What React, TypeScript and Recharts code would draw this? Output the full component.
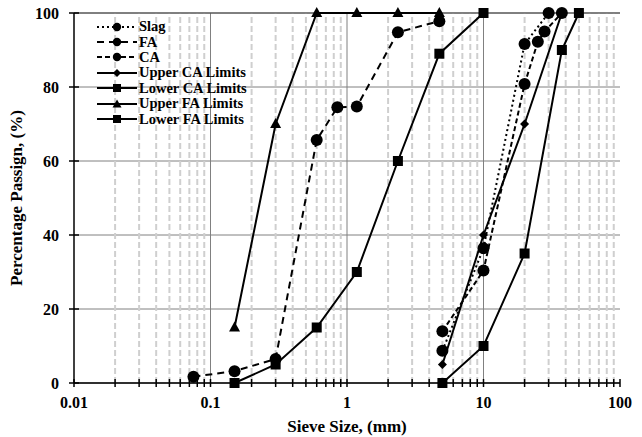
import React from "react";
import {
  LineChart,
  Line,
  XAxis,
  YAxis,
  CartesianGrid,
  ReferenceLine,
  Label,
} from "recharts";

// sieve sizes (mm) and percentage passing
const slagSize = [5, 10, 20, 30];
const slagPass = [8.7, 36.4, 91.6, 100];
const faSize = [0.075, 0.15, 0.3, 0.6, 0.85, 1.18, 2.36, 4.75];
const faPass = [1.7, 3.2, 6.5, 65.7, 74.5, 74.7, 94.8, 97.8];
const caSize = [5, 10, 20, 25, 28, 37.5];
const caPass = [14, 30.4, 80.8, 92.2, 95, 100];
const upperCaSize = [5, 10, 20, 37.5];
const upperCaPass = [5, 40, 70, 100];
const lowerCaSize = [5, 10, 20, 37.5, 50];
const lowerCaPass = [0, 10, 35, 90, 100];
const upperFaSize = [0.15, 0.3, 0.6, 1.18, 2.36, 4.75];
const upperFaPass = [15, 70, 100, 100, 100, 100];
const lowerFaSize = [0.15, 0.3, 0.6, 1.18, 2.36, 4.75, 10];
const lowerFaPass = [0, 5, 15, 30, 60, 89, 100];

const majorTicks = [0.01, 0.1, 1, 10, 100];
const minorTicks = [
  0.02, 0.03, 0.04, 0.05, 0.06, 0.07, 0.08, 0.09,
  0.2, 0.3, 0.4, 0.5, 0.6, 0.7, 0.8, 0.9,
  2, 3, 4, 5, 6, 7, 8, 9,
  20, 30, 40, 50, 60, 70, 80, 90,
];
const yTicks = [0, 20, 40, 60, 80, 100];

const FONT = "'Liberation Serif', 'Times New Roman', serif";

const zip = (xs: number[], ys: number[]) => xs.map((x, i) => ({ x, y: ys[i] }));

const CircleDot = (p: any) =>
  p.cx == null ? <g key={p.index} /> : <circle key={p.index} cx={p.cx} cy={p.cy} r={6} fill="#000" />;
const SquareDot = (p: any) =>
  p.cx == null ? <g key={p.index} /> : <rect key={p.index} x={p.cx - 5} y={p.cy - 5} width={10} height={10} fill="#000" />;
const TriangleDot = (p: any) =>
  p.cx == null ? (
    <g key={p.index} />
  ) : (
    <polygon
      key={p.index}
      points={`${p.cx},${p.cy - 6} ${p.cx + 5.5},${p.cy + 4} ${p.cx - 5.5},${p.cy + 4}`}
      fill="#000"
    />
  );
const DiamondDot = (p: any) =>
  p.cx == null ? (
    <g key={p.index} />
  ) : (
    <polygon
      key={p.index}
      points={`${p.cx},${p.cy - 4.5} ${p.cx + 4.5},${p.cy} ${p.cx},${p.cy + 4.5} ${p.cx - 4.5},${p.cy}`}
      fill="#000"
    />
  );

const series = [
  { name: "Slag", data: zip(slagSize, slagPass), dash: "2 3", dot: CircleDot, mark: "circle" },
  { name: "FA", data: zip(faSize, faPass), dash: "7 5", dot: CircleDot, mark: "circle" },
  { name: "CA", data: zip(caSize, caPass), dash: "5 3", dot: CircleDot, mark: "circle" },
  { name: "Upper CA Limits", data: zip(upperCaSize, upperCaPass), dash: undefined, dot: DiamondDot, mark: "diamond" },
  { name: "Lower CA Limits", data: zip(lowerCaSize, lowerCaPass), dash: undefined, dot: SquareDot, mark: "square" },
  { name: "Upper FA Limits", data: zip(upperFaSize, upperFaPass), dash: undefined, dot: TriangleDot, mark: "triangle" },
  { name: "Lower FA Limits", data: zip(lowerFaSize, lowerFaPass), dash: undefined, dot: SquareDot, mark: "square" },
];

const XTick = (props: any) => {
  const { x, y, payload } = props;
  const show = majorTicks.includes(payload.value);
  return (
    <g>
      <line x1={x} x2={x} y1={y - 4} y2={y + 4} stroke="#000" strokeWidth={1.5} />
      {show && (
        <text x={x} y={y + 24.5} textAnchor="middle" fontFamily={FONT} fontWeight="bold" fontSize={16} fill="#000">
          {payload.value}
        </text>
      )}
    </g>
  );
};

const YTick = (props: any) => {
  const { x, y, payload } = props;
  return (
    <g>
      <line x1={x - 5} x2={x + 5} y1={y} y2={y} stroke="#000" strokeWidth={1.5} />
      <text x={x - 15} y={y + 5.5} textAnchor="end" fontFamily={FONT} fontWeight="bold" fontSize={16} fill="#000">
        {payload.value}
      </text>
    </g>
  );
};

const LegendMark = ({ mark }: { mark: string }) => {
  const cx = 21;
  const cy = 7;
  if (mark === "circle") return <circle cx={cx} cy={cy} r={4.2} fill="#000" />;
  if (mark === "square") return <rect x={cx - 4} y={cy - 4} width={8} height={8} fill="#000" />;
  if (mark === "triangle")
    return <polygon points={`${cx},${cy - 4.5} ${cx + 4.5},${cy + 3.5} ${cx - 4.5},${cy + 3.5}`} fill="#000" />;
  return <polygon points={`${cx},${cy - 4} ${cx + 4},${cy} ${cx},${cy + 4} ${cx - 4},${cy}`} fill="#000" />;
};

export default function App() {
  return (
    <div style={{ position: "absolute", left: 0, top: 0, width: 642, height: 437, background: "#fff" }}>
      <LineChart width={642} height={437} margin={{ top: 13, right: 22, left: 24, bottom: 0 }}>
        <CartesianGrid horizontal vertical={false} stroke="#808080" strokeWidth={1} />
        {minorTicks.map((v) => (
          <ReferenceLine key={v} x={v} stroke="#cfcfcf" strokeWidth={2} strokeDasharray="6 3" />
        ))}
        {[0.1, 1, 10].map((v) => (
          <ReferenceLine key={v} x={v} stroke="#808080" strokeWidth={1} />
        ))}
        <ReferenceLine y={100} stroke="#404040" strokeWidth={1.2} />
        <XAxis
          dataKey="x"
          type="number"
          scale="log"
          domain={[0.01, 100]}
          ticks={[...majorTicks, ...minorTicks].sort((a, b) => a - b)}
          allowDataOverflow
          height={54}
          tickSize={0}
          tickMargin={0}
          tick={<XTick />}
          axisLine={{ stroke: "#000", strokeWidth: 1.5 }}
          tickLine={false}
          interval={0}
        >
          <Label
            content={() => (
              <text x={347} y={432} textAnchor="middle" fontFamily={FONT} fontWeight="bold" fontSize={17} fill="#000">
                Sieve Size, (mm)
              </text>
            )}
          />
        </XAxis>
        <YAxis
          type="number"
          domain={[0, 100]}
          ticks={yTicks}
          width={50}
          tickSize={0}
          tickMargin={0}
          tick={<YTick />}
          axisLine={{ stroke: "#000", strokeWidth: 1.5 }}
          tickLine={false}
          interval={0}
        >
          <Label
            content={() => (
              <text
                transform="translate(22,198) rotate(-90)"
                textAnchor="middle"
                fontFamily={FONT}
                fontWeight="bold"
                fontSize={17}
                fill="#000"
              >
                Percentage Passign, (%)
              </text>
            )}
          />
        </YAxis>
        {series.map((s) => (
          <Line
            key={s.name}
            data={s.data}
            dataKey="y"
            name={s.name}
            stroke="#000"
            strokeWidth={2}
            strokeDasharray={s.dash}
            dot={s.dot}
            activeDot={false}
            isAnimationActive={false}
          />
        ))}
      </LineChart>
      <div style={{ position: "absolute", left: 96, top: 19 }}>
        {series.map((s) => (
          <div key={s.name} style={{ display: "flex", alignItems: "center", height: 15.4 }}>
            <svg width={42} height={14} style={{ display: "block" }}>
              <line x1={1} x2={41} y1={7} y2={7} stroke="#000" strokeWidth={2} strokeDasharray={s.dash} />
              <LegendMark mark={s.mark} />
            </svg>
            <span
              style={{
                marginLeft: 1,
                fontFamily: FONT,
                fontWeight: "bold",
                fontSize: 14.5,
                lineHeight: "15px",
                color: "#000",
                whiteSpace: "nowrap",
              }}
            >
              {s.name}
            </span>
          </div>
        ))}
      </div>
    </div>
  );
}
